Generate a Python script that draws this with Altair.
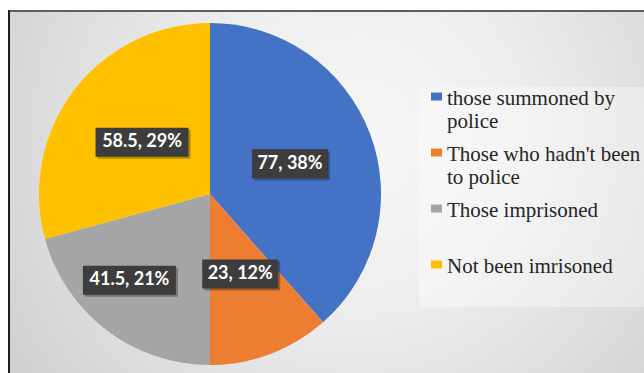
import json
import altair as alt
import pandas as pd

# ---- data ----
categories = [
    "those summoned by police",
    "Those who hadn't been to police",
    "Those imprisoned",
    "Not been imrisoned",
]
legend_lines = [
    ["those summoned by", "police"],
    ["Those who hadn't been", "to police"],
    ["Those imprisoned", ""],
    ["Not been imrisoned", ""],
]
values = [77, 23, 41.5, 58.5]
percents = [38, 12, 21, 29]
colors = ["#4472C4", "#ED7D31", "#A5A5A5", "#FFC000"]

df = pd.DataFrame({
    "cat": categories,
    "value": values,
    "pct": percents,
    "idx": list(range(len(categories))),
})
df["label"] = [f"{v:g}, {p}%" for v, p in zip(values, percents)]

W, H = 636, 363
CX, CY, R = 202, 184, 171

xs = alt.Scale(domain=[-1, 1], range=[CX - R, CX + R])
ys = alt.Scale(domain=[-1, 1], range=[CY + R, CY - R])

label_expr = json.dumps(dict(zip(categories, legend_lines))) + "[datum.label]"

base = alt.Chart(df)

blank = alt.Data(values=[{"k": 0}])

bg = alt.Chart(blank).mark_rect(
    color=alt.Gradient(
        gradient="radial",
        x1=0.55, y1=0.42, r1=0,
        x2=0.55, y2=0.42, r2=0.75,
        stops=[
            alt.GradientStop(offset=0, color="#f7f7f7"),
            alt.GradientStop(offset=0.35, color="#eeeeee"),
            alt.GradientStop(offset=0.7, color="#dadada"),
            alt.GradientStop(offset=1, color="#c8c8c8"),
        ],
    )
).encode(x=alt.value(0), x2=alt.value(W), y=alt.value(0), y2=alt.value(H))

top_rule = alt.Chart(blank).mark_rule(color="#5f5f5f", strokeWidth=2).encode(
    x=alt.value(0), x2=alt.value(W), y=alt.value(1)
)
left_rule = alt.Chart(blank).mark_rule(color="#1e1e1e", strokeWidth=2).encode(
    x=alt.value(1), y=alt.value(0), y2=alt.value(H)
)

pie = base.mark_arc(outerRadius=R).encode(
    theta=alt.Theta("value:Q", stack=True),
    order=alt.Order("idx:Q"),
    color=alt.Color(
        "cat:N",
        scale=alt.Scale(domain=categories, range=colors),
        legend=alt.Legend(
            title=None,
            orient="none",
            legendX=411,
            legendY=77,
            padding=7,
            fillColor="rgba(255,255,255,0.35)",
            labelFont="Liberation Serif",
            labelFontSize=21,
            labelColor="#262626",
            labelExpr=label_expr,
            labelBaseline="alphabetic",
            labelLimit=400,
            labelOffset=0,
            symbolType="M-0.786,-1.71H0.786V-0.57H-0.786Z",
            symbolSize=196,
            symbolStrokeWidth=0,
            symbolOpacity=1,
            rowPadding=11,
        ),
    ),
    x=alt.value(CX),
    y=alt.value(CY),
)

labels = base.transform_joinaggregate(
    total="sum(value)"
).transform_window(
    cum="sum(value)", sort=[alt.SortField("idx")], frame=[None, 0]
).transform_calculate(
    dang="datum.cat == 'Those imprisoned' ? 0.1 : 0",
    mid="2*PI*(datum.cum - datum.value/2)/datum.total + datum.dang",
    rr="datum.cat == 'Those imprisoned' ? 0.69 : 0.5",
    lx="datum.rr*sin(datum.mid)",
    ly="datum.rr*cos(datum.mid)",
    hw="(length(datum.label)*8.5 + 16.5)/2/171",
    hh="14.5/171",
    bx1="datum.lx - datum.hw",
    bx2="datum.lx + datum.hw",
    by1="datum.ly - datum.hh",
    by2="datum.ly + datum.hh",
)

shadow = labels.mark_rect(
    color="#000000", opacity=0.28, xOffset=2, x2Offset=2, yOffset=2, y2Offset=2
).encode(
    x=alt.X("bx1:Q", scale=xs, axis=None),
    x2="bx2:Q",
    y=alt.Y("by1:Q", scale=ys, axis=None),
    y2="by2:Q",
)

box = labels.mark_rect(color="#3d3d3d").encode(
    x=alt.X("bx1:Q", scale=xs, axis=None),
    x2="bx2:Q",
    y=alt.Y("by1:Q", scale=ys, axis=None),
    y2="by2:Q",
)

txt = labels.mark_text(
    font="Lato", fontWeight="bold", fontSize=18, color="white", baseline="middle", align="center"
).encode(
    x=alt.X("lx:Q", scale=xs, axis=None),
    y=alt.Y("ly:Q", scale=ys, axis=None),
    text="label:N",
)

chart = alt.layer(bg, top_rule, left_rule, pie, shadow, box, txt).properties(
    width=W,
    height=H,
    padding={"left": 8, "top": 10, "right": 0, "bottom": 0},
    autosize=alt.AutoSizeParams(type="none"),
    background="white",
).configure_view(stroke="transparent")

chart.save("out.html", embed_options={"renderer": "svg", "actions": False})
